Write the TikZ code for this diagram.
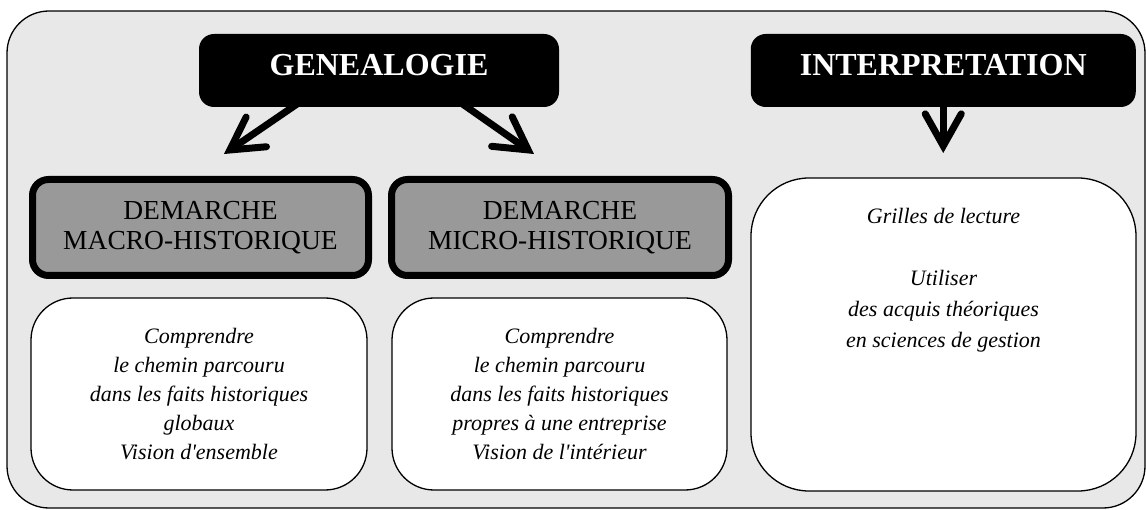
\documentclass[tikz,border=0pt]{standalone}
\usepackage{fontspec}
\setmainfont{Liberation Serif}
\usetikzlibrary{arrows.meta,calc}
\definecolor{bgray}{HTML}{E8E8E8}
\definecolor{mgray}{HTML}{999999}
\begin{document}
\begin{tikzpicture}[x=1pt,y=-1pt,
 outerbox/.style={draw, line width=1.3pt, fill=bgray, rounded corners=42pt, minimum width=1138pt, minimum height=497pt, inner sep=0pt},
 headbox/.style={fill=black, text=white, rounded corners=15pt, minimum height=73pt, inner sep=0pt, font=\fontsize{32}{36}\selectfont\bfseries, text depth=11pt},
 graybox/.style={draw, line width=7pt, fill=mgray, rounded corners=16pt, minimum height=96pt, inner sep=0pt, align=center, font=\fontsize{27.5}{30}\selectfont},
 whitebox/.style={draw, line width=1.3pt, fill=white, rounded corners=42pt, inner sep=0pt, align=center, font=\fontsize{22}{29}\selectfont\itshape},
 itext/.style={inner sep=0pt, align=center, font=\fontsize{22}{31}\selectfont\itshape},
 bigarrow/.style={line width=7pt, -{Straight Barb[length=32pt,width=36pt,line cap=round,line join=miter]}}
]
\useasboundingbox (0,0) rectangle (1146,510);
\node[outerbox] (outer) at (576,259.5) {};
\node[headbox, minimum width=360pt] (gen) at (379,70.5) {GENEALOGIE};
\node[headbox, minimum width=385pt] (interp) at (943.25,70.5) {INTERPRETATION};
\node[graybox, minimum width=336pt] (macro) at (200.5,227.5) {DEMARCHE\\MACRO-HISTORIQUE};
\node[graybox, minimum width=337pt] (micro) at (560,227.5) {DEMARCHE\\MICRO-HISTORIQUE};
\node[whitebox, minimum width=336pt, minimum height=192pt] (macrotext) at (199,394) {Comprendre\\ le chemin parcouru\\ dans les faits historiques\\ globaux\\ Vision d\textquotesingle ensemble};
\node[whitebox, minimum width=335pt, minimum height=192pt] (microtext) at (559.5,394) {Comprendre\\ le chemin parcouru\\ dans les faits historiques\\ propres à une entreprise\\ Vision de l\textquotesingle intérieur};
\node[whitebox, rounded corners=58pt, minimum width=385pt, minimum height=313pt] (interpbox) at (943.5,334.5) {};
\node[itext, anchor=north] (interptext) at ($(interpbox.north)+(0,31)$) {Grilles de lecture\\[31pt] Utiliser\\ des acquis théoriques\\ en sciences de gestion};
\coordinate (tipL) at (224,154);
\coordinate (tipR) at (534,154);
\coordinate (tipI) at (943.25,153);
\draw[bigarrow] ($(gen.south west)+(98,-3)$) -- (tipL);
\draw[bigarrow] ($(gen.south west)+(264,-3)$) -- (tipR);
\draw[bigarrow] ($(interp.south)+(0,-3)$) -- (tipI);
\end{tikzpicture}
\end{document}
